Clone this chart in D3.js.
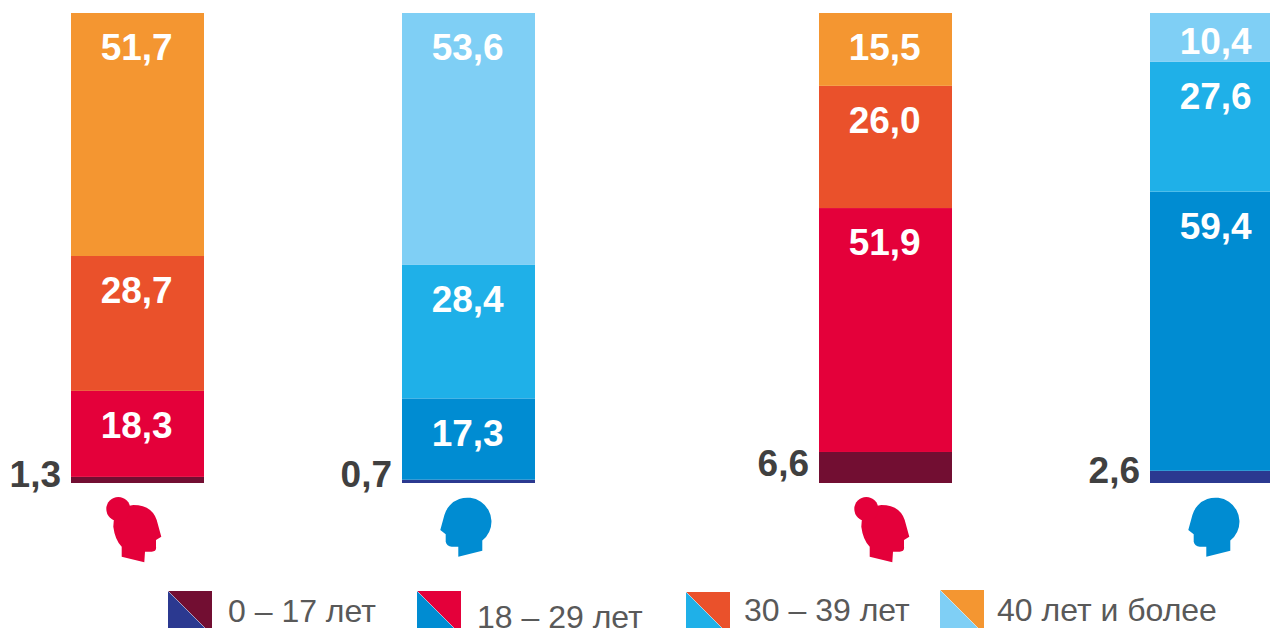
<!DOCTYPE html>
<html><head><meta charset="utf-8">
<script src="https://cdn.jsdelivr.net/npm/d3@7"></script>
<style>html,body{margin:0;padding:0;background:#fff;overflow:hidden}svg{display:block}text{font-family:"Liberation Sans",Arial,sans-serif}</style>
</head><body><svg id="c" width="1270" height="628"></svg>
<script>
// Values per column, bottom segment first (age groups 0-17, 18-29, 30-39, 40+)
const femaleA = [1.3, 18.3, 28.7, 51.7];
const maleA   = [0.7, 17.3, 28.4, 53.6];
const femaleB = [6.6, 51.9, 26.0, 15.5];
const maleB   = [2.6, 59.4, 27.6, 10.4];
const columns = [femaleA, maleA, femaleB, maleB];
const columnX = [71, 402, 819, 1150];
const genders = ["f", "m", "f", "m"];
const ageGroups = ["0 – 17 лет", "18 – 29 лет", "30 – 39 лет", "40 лет и более"];
const femaleColors = ["#720e32", "#e4003a", "#ea512b", "#f49631"];
const maleColors   = ["#2b3990", "#008cd2", "#1fb0e8", "#7fcff5"];

const svg = d3.select("#c");
const y = d3.scaleLinear().domain([0, 100]).range([483, 13]);
const barW = 133;
const fmt = v => v.toFixed(1).replace(".", ",");

columns.forEach((vals, ci) => {
  const x0 = columnX[ci];
  const colors = genders[ci] === "f" ? femaleColors : maleColors;
  const stack = d3.cumsum(vals);
  const g = svg.append("g");
  g.selectAll("rect").data(vals).join("rect")
    .attr("x", x0).attr("width", barW)
    .attr("y", (d, i) => y(stack[i]))
    .attr("height", d => y(0) - y(d))
    .attr("fill", (d, i) => colors[i]);
  g.selectAll("text").data(vals).join("text")
    .text(fmt)
    .attr("font-weight", "bold").attr("font-size", 37)
    .attr("text-anchor", (d, i) => i === 0 ? "end" : "middle")
    .attr("x", (d, i) => i === 0 ? x0 - 10 : x0 + barW / 2 - 0.8)
    .attr("y", (d, i) => {
      if (i === 0) return (ci === 2 ? 476 : ci === 3 ? 483 : 487);
      const off = (ci === 3 && i === 3) ? 29 : 35;
      return y(stack[i]) + off + 12.2;
    })
    .attr("fill", (d, i) => i === 0 ? "#404040" : "#fff");
});

// Head icons
const maleHead = "M128.3 116.7 L152.3 110.7 L152.3 100.5 A24 24 0 1 0 114.4 75 L110.3 90 L115.7 94.3 L115.7 101.7 Q116.7 106 121.7 106.7 L128.3 106.7 Z";
const femaleHead = "M121.7 116.7 L144.3 122.3 L145 111.7 L151.7 111.7 Q156.7 111.7 156 106.7 L156 100 L161.3 96.7 L156.7 80 Q151.7 65 133.3 65 Q113.3 68 113.3 86.7 Q115 100 121.7 106.7 Z";
columns.forEach((vals, ci) => {
  const dx = ci < 2 ? 0 : 748;
  if (genders[ci] === "f") {
    const g = svg.append("g").attr("transform", `translate(${dx},440)`).attr("fill", "#e4003a");
    g.append("path").attr("d", femaleHead);
    g.append("circle").attr("cx", 118.3).attr("cy", 69).attr("r", 12);
  } else {
    svg.append("g").attr("transform", `translate(${330 + dx},440)`).attr("fill", "#008cd2")
      .append("path").attr("d", maleHead);
  }
});

// Legend
const legendX = [168, 417, 686, 940];
const legendY = [591, 591, 592, 590];
const legendTextX = [228, 477, 744, 997];
const legendBase = [622, 628, 621, 621];
ageGroups.forEach((label, i) => {
  const s = 44, x = legendX[i], t = legendY[i];
  const g = svg.append("g");
  g.append("path").attr("d", d3.line()([[x, t], [x + s, t], [x + s, t + s]])).attr("fill", femaleColors[i]);
  g.append("path").attr("d", d3.line()([[x, t], [x, t + s], [x + s, t + s]])).attr("fill", maleColors[i]);
  g.append("line").attr("x1", x).attr("y1", t).attr("x2", x + s).attr("y2", t + s)
    .attr("stroke", "#fff").attr("stroke-opacity", 0.5).attr("stroke-width", 0.8);
  g.append("text").text(label).attr("x", legendTextX[i]).attr("y", legendBase[i])
    .attr("font-size", 32).attr("fill", "#595959");
});
</script></body></html>
